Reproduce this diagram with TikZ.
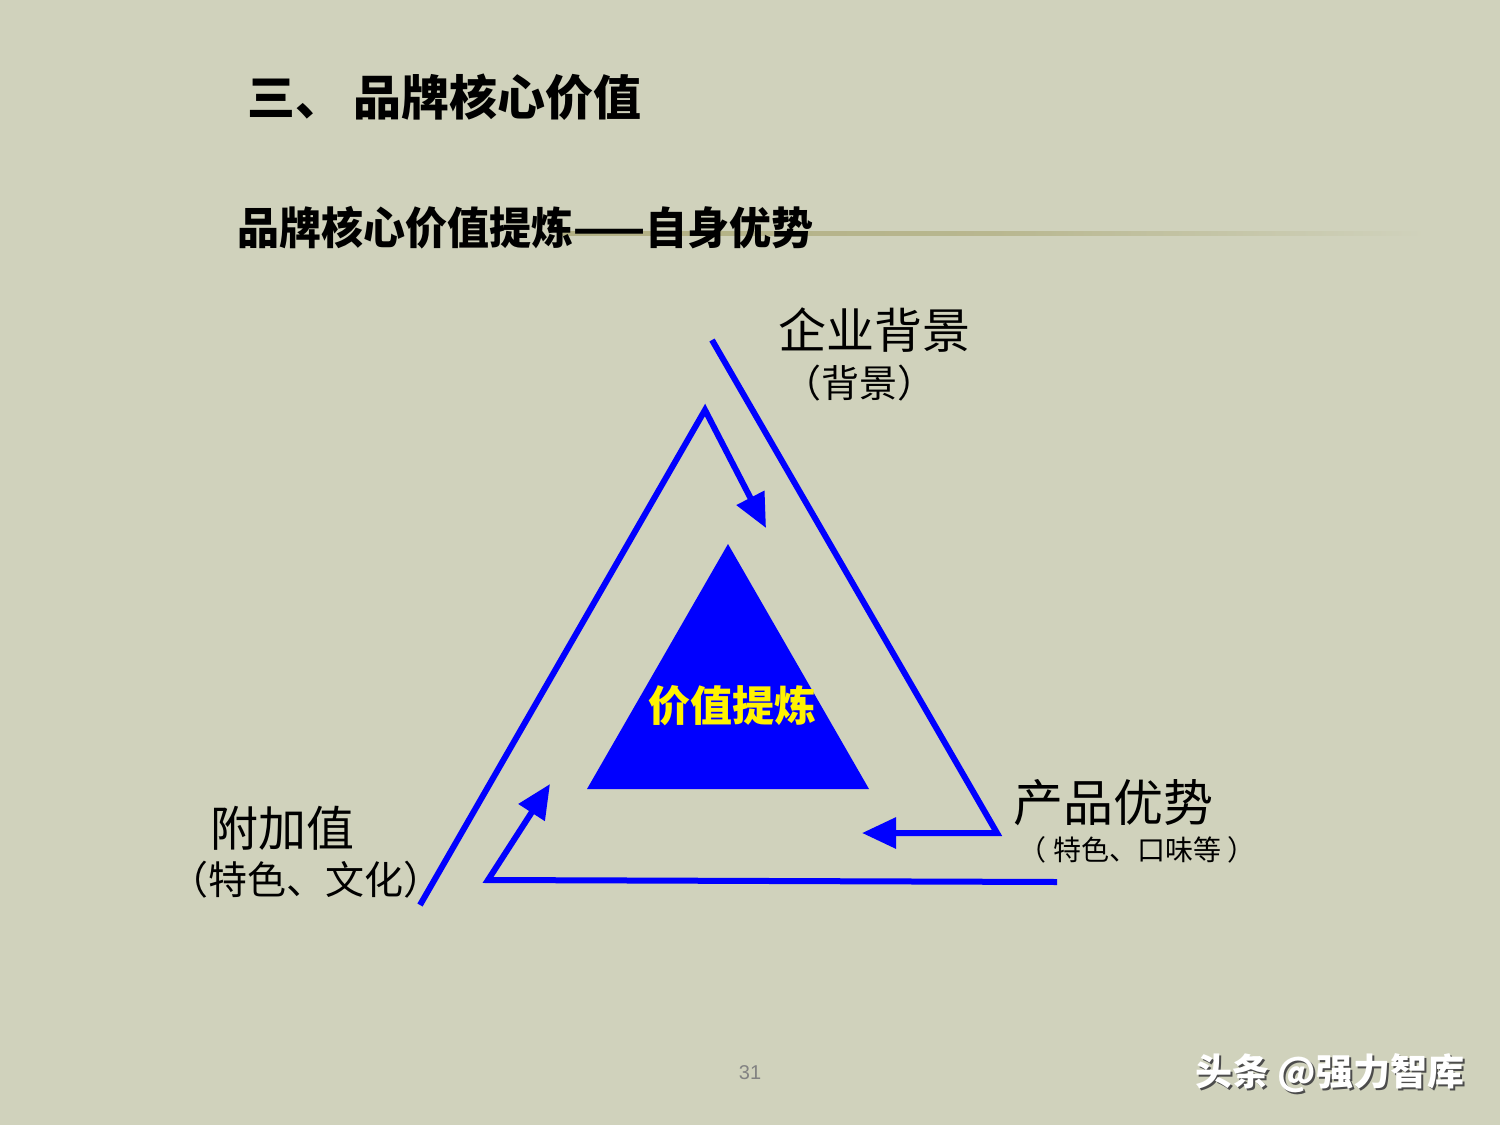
\documentclass[tikz,border=0pt]{standalone}
\usepackage{fontspec}
\newfontfamily\cjk{Noto Sans CJK SC}
\newfontfamily\numfont{Liberation Sans}
\usetikzlibrary{arrows.meta}
\definecolor{bg}{RGB}{208,210,188}
\definecolor{olive}{RGB}{178,176,132}
\definecolor{pureblue}{RGB}{0,0,255}
\definecolor{pagegray}{RGB}{130,130,130}
\tikzset{
  lbl/.style={inner sep=0pt, font=\cjk, text=black},
  bline/.style={draw=pureblue, line width=6pt, line join=miter,
    -{Triangle[length=34pt,width=30pt]}},
}
\begin{document}
\begin{tikzpicture}[x=1pt,y=-1pt]
\fill[bg] (0,0) rectangle (1500,1125);
\useasboundingbox (0,0) rectangle (1500,1125);

% subtitle underline (gradient)
\shade[left color=olive, right color=bg, middle color=olive!80!bg] (560,231) rectangle (1425,235);

% title & subtitle
\node[lbl, anchor=west, font=\cjk\bfseries\fontsize{48}{52}\selectfont] (title) at (247,97) {三、\hspace{10pt}品牌核心价值};
\node[lbl, anchor=west, font=\cjk\bfseries\fontsize{42}{46}\selectfont, yscale=1.05] (subtitle) at (237,228) {品牌核心价值提炼——自身优势};

% central triangle
\coordinate (tA) at (728,544);
\coordinate (tB) at (587,789);
\coordinate (tC) at (869,789);
\fill[pureblue] (tA) -- (tB) -- (tC) -- cycle;
\node[lbl, text=yellow, font=\cjk\bfseries\fontsize{42}{46}\selectfont] (core) at (732,706) {价值提炼};

% line 1: 企业背景 -> 产品优势 corner -> arrow left
\coordinate (p1s) at (712,340);
\coordinate (p1c) at (997,833);
\coordinate (p1e) at (862,833);
\draw[bline] (p1s) -- (p1c) -- (p1e);

% line 2: 附加值 -> apex -> arrow down right
\coordinate (p2s) at (420,905);
\coordinate (p2c) at (705,410);
\coordinate (p2e) at (766,528);
\draw[bline] (p2s) -- (p2c) -- (p2e);

% line 3: 产品优势 -> left corner -> arrow up right
\coordinate (p3s) at (1057,882);
\coordinate (p3c) at (488,880);
\coordinate (p3e) at (550,784);
\draw[bline] (p3s) -- (p3c) -- (p3e);

% labels
\node[lbl, anchor=west, font=\cjk\fontsize{48}{52}\selectfont] (qiye) at (778,330) {企业背景};
\node[lbl, font=\cjk\fontsize{38}{42}\selectfont] (qiyesub) at (859,383) {（背景）};
\node[lbl, anchor=west, font=\cjk\fontsize{50}{54}\selectfont] (chanpin) at (1013,803) {产品优势};
\node[lbl, font=\cjk\fontsize{28}{32}\selectfont] (chanpinsub) at (1137,850) {（ 特色、口味等 ）};
\node[lbl, anchor=west, font=\cjk\fontsize{48}{52}\selectfont] (fujia) at (210,828) {附加值};
\node[lbl, font=\cjk\fontsize{39}{43}\selectfont] (fujiasub) at (306,880) {（特色、文化）};

% page number
\node[inner sep=0pt, text=pagegray, font=\numfont\fontsize{20}{24}\selectfont] (page) at (750,1073) {31};

% watermark
\node[inner sep=0pt, text=black!70, font=\cjk\bfseries\fontsize{37}{41}\selectfont] (wmshadow) at (1332,1075) {头条 @强力智库};
\node[inner sep=0pt, text=white, font=\cjk\bfseries\fontsize{37}{41}\selectfont] (wm) at (1330,1073) {头条 @强力智库};
\end{tikzpicture}
\end{document}
